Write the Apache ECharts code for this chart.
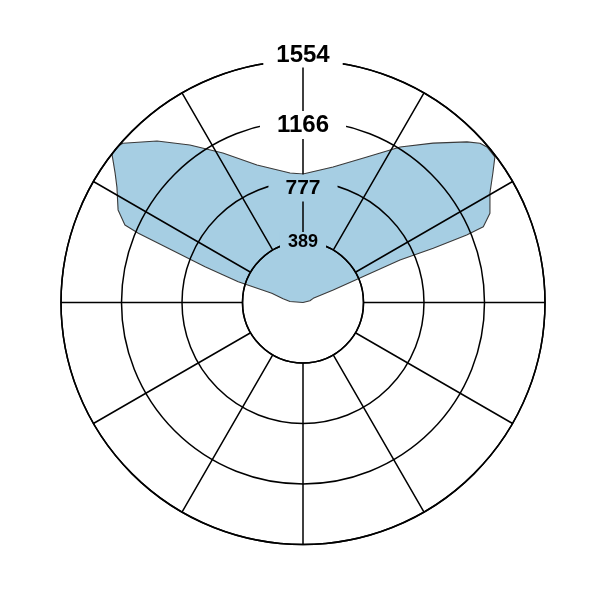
<!DOCTYPE html>
<html>
<head>
<meta charset="utf-8">
<script src="https://cdn.jsdelivr.net/npm/echarts@6/dist/echarts.min.js"></script>
<style>
html,body{margin:0;padding:0;background:#fff;}
#chart{width:601px;height:601px;}
</style>
</head>
<body>
<div id="chart"></div>
<script>
// Radius ticks and labels
const radiusMin = 388.5;
const radiusMax = 1554;
const radiusStep = 388.5;
const tickLabels = ['389', '777', '1166', '1554'];

// Intensity outline: angle (degrees, clockwise from top) and value
const angles = [
  180, 75.6, 67.8, 67.6, 66.6, 66.3, 67.4, 67.6, 67.2, 64.5, 59.6, 55.7, 52.8, 49.8, 48.0, 45.6,
  39.2, 32.0, 23.7, 12.5, 0, 354.3, 341.5, 331.8, 324.3, 317.9, 311.5, 309.9, 308.0,
  304.6, 301.8, 296.6, 293.5, 292.8, 291.8, 290.1, 287.8, 286.4, 280.5, 274.4, 180
];
const values = [
  0, 46, 71, 210, 445, 680, 906, 1137, 1256, 1330, 1392, 1476, 1547, 1547, 1529, 1474,
  1321, 1177, 1021, 891, 825, 836, 931, 1089, 1245, 1398, 1544, 1560, 1558,
  1466, 1406, 1328, 1247, 1147, 908, 670, 437, 209, 130, 84, 0
];

const fillColor = '#a6cee3';
const gridColor = '#000';
const seriesData = angles.map((a, i) => [values[i], a]);

const chart = echarts.init(document.getElementById('chart'));
chart.setOption({
  animation: false,
  backgroundColor: '#fff',
  polar: [
    { center: [303, 302.5], radius: [60.5, 242] },
    { center: [303, 302.5], radius: [0, 242] }
  ],
  angleAxis: [{
    polarIndex: 0,
    type: 'value', min: 0, max: 360, interval: 30, startAngle: 90, clockwise: true,
    z: 2,
    axisLine: { show: true, lineStyle: { color: gridColor, width: 1.5 } },
    axisTick: { show: false },
    axisLabel: { show: false },
    splitLine: { show: true, lineStyle: { color: gridColor, width: 1.5 } }
  }, {
    polarIndex: 1,
    type: 'value', min: 0, max: 360, startAngle: 90, clockwise: true,
    show: false
  }],
  radiusAxis: [{
    polarIndex: 0,
    type: 'value', min: radiusMin, max: radiusMax, interval: radiusStep,
    z: 3,
    axisLine: { show: false },
    axisTick: { show: false },
    splitLine: { show: true, lineStyle: { color: gridColor, width: 1.5 } },
    axisLabel: {
      show: true, margin: 0, align: 'center', verticalAlign: 'middle',
      fontFamily: 'Liberation Sans, Arial, sans-serif', fontWeight: 'bold', color: '#000',
      formatter: function (v, i) {
        const t = tickLabels[i];
        if (i === 0) return '{l0|' + t + '}';
        if (i === 1) return '{s13| }\n{l1|' + t + '}';
        if (i === 2) return '{s8| }\n{l2|' + t + '}';
        return '{l3|' + t + '}\n{s10| }';
      },
      rich: {
        l0: { fontSize: 18, fontWeight: 'bold', lineHeight: 21, backgroundColor: fillColor, padding: [1, 8], color: '#000', align: 'center' },
        l1: { fontSize: 21, fontWeight: 'bold', lineHeight: 24, backgroundColor: fillColor, padding: [3, 17], color: '#000', align: 'center' },
        l2: { fontSize: 24, fontWeight: 'bold', lineHeight: 25, backgroundColor: '#fff', padding: [2, 17], color: '#000', align: 'center' },
        l3: { fontSize: 24, fontWeight: 'bold', lineHeight: 22, backgroundColor: '#fff', padding: [0, 13], color: '#000', align: 'center' },
        s13: { fontSize: 1, lineHeight: 13 },
        s8: { fontSize: 1, lineHeight: 8 },
        s10: { fontSize: 1, lineHeight: 10 }
      }
    }
  }, {
    polarIndex: 1,
    type: 'value', min: 0, max: radiusMax,
    show: false
  }],
  series: [{
    type: 'line',
    coordinateSystem: 'polar',
    polarIndex: 1,
    data: seriesData,
    symbol: 'none',
    clip: false,
    z: 1,
    lineStyle: { color: '#3a3a3a', width: 1.1 },
    areaStyle: { color: fillColor, opacity: 1, origin: 0 }
  }]
});
</script>
</body>
</html>
